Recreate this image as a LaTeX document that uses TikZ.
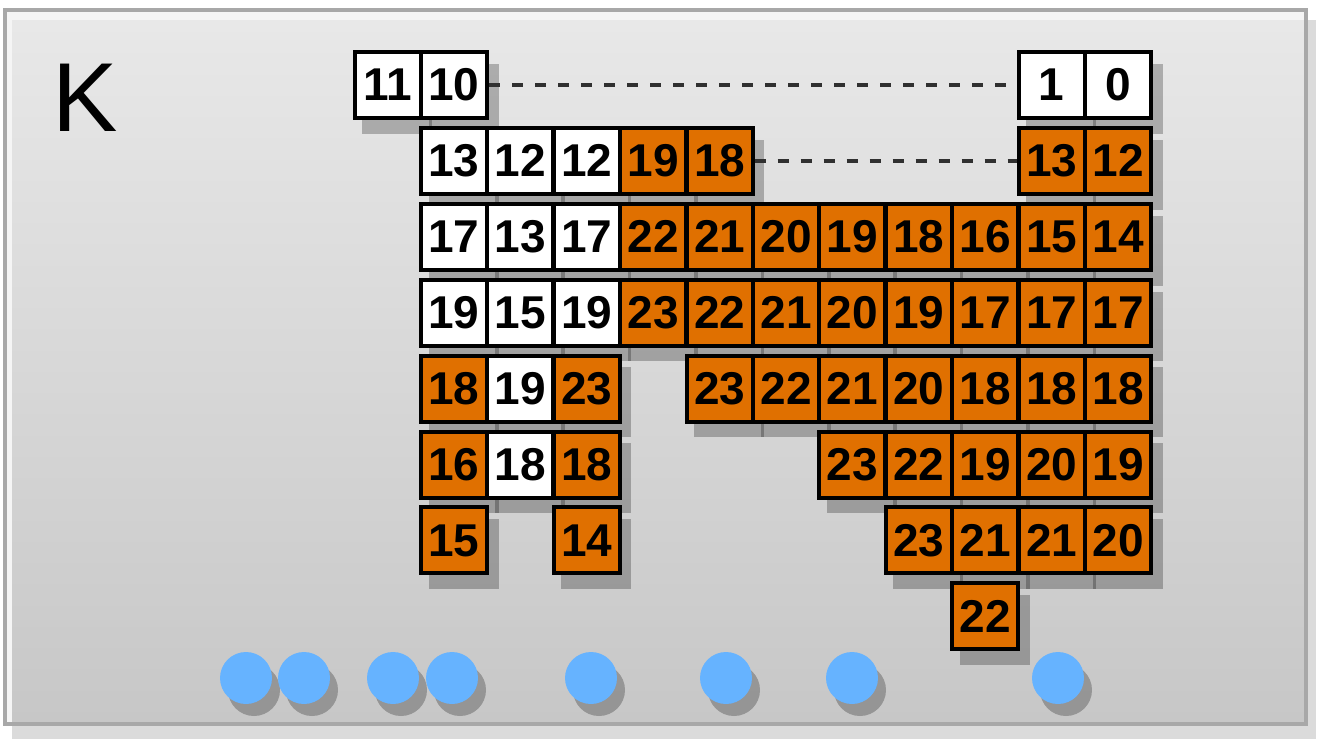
\documentclass[tikz,border=0pt]{standalone}
\usepackage{fontspec}
\setmainfont{Liberation Sans}
\usetikzlibrary{shadows}
\definecolor{orng}{HTML}{E07000}
\definecolor{blu}{HTML}{66B3FF}
\definecolor{frameln}{HTML}{A8A8A8}
\definecolor{dashc}{HTML}{303030}
\newcommand\cellat[5]{\node[#5] (#1) at ({454+66.4*(#3)},{85+75.9*(#2)}) {#4};}
\begin{document}
\begin{tikzpicture}[x=1pt,y=-1pt,
  cellbase/.style={rectangle, draw=black, line width=4pt, minimum width=66pt, minimum height=66pt, inner sep=0pt,
    font=\fontsize{46}{46}\selectfont\bfseries,
    drop shadow={shadow scale=1.06, shadow xshift=9pt, shadow yshift=-13pt, fill=black, opacity=0.25}},
  wcell/.style={cellbase, fill=white},
  ocell/.style={cellbase, fill=orng},
  dot/.style={circle, fill=blu, minimum size=52pt, inner sep=0pt,
    drop shadow={shadow xshift=8pt, shadow yshift=-12pt, fill=black, opacity=0.25}},
  link/.style={dashc, line width=3.5pt, dash pattern=on 11pt off 12pt}]
\useasboundingbox (0,0) rectangle (1324,744);
\fill[white] (0,0) rectangle (1324,744);
\fill[black!14] (12,20) rectangle (1316,739);
\fill[black!4] (5,10) rectangle (1306,724);
\shade[top color=black!9, bottom color=black!22] (12,20) rectangle (1306,724);
\draw[frameln, line width=3.5pt] (5,10) rectangle (1306,724);

\node[font=\fontsize{98}{98}\selectfont, anchor=base west, inner sep=0pt] (k) at (52,131) {K};

% row 0
\cellat{r0cm}{0}{-1}{11}{wcell}
\cellat{r0c0}{0}{0}{10}{wcell}
\cellat{r0c9}{0}{9}{1}{wcell}
\cellat{r0c10}{0}{10}{0}{wcell}
% row 1
\cellat{r1c0}{1}{0}{13}{wcell}
\cellat{r1c1}{1}{1}{12}{wcell}
\cellat{r1c2}{1}{2}{12}{wcell}
\cellat{r1c3}{1}{3}{19}{ocell}
\cellat{r1c4}{1}{4}{18}{ocell}
\cellat{r1c9}{1}{9}{13}{ocell}
\cellat{r1c10}{1}{10}{12}{ocell}
% row 2
\cellat{r2c0}{2}{0}{17}{wcell}
\cellat{r2c1}{2}{1}{13}{wcell}
\cellat{r2c2}{2}{2}{17}{wcell}
\cellat{r2c3}{2}{3}{22}{ocell}
\cellat{r2c4}{2}{4}{21}{ocell}
\cellat{r2c5}{2}{5}{20}{ocell}
\cellat{r2c6}{2}{6}{19}{ocell}
\cellat{r2c7}{2}{7}{18}{ocell}
\cellat{r2c8}{2}{8}{16}{ocell}
\cellat{r2c9}{2}{9}{15}{ocell}
\cellat{r2c10}{2}{10}{14}{ocell}
% row 3
\cellat{r3c0}{3}{0}{19}{wcell}
\cellat{r3c1}{3}{1}{15}{wcell}
\cellat{r3c2}{3}{2}{19}{wcell}
\cellat{r3c3}{3}{3}{23}{ocell}
\cellat{r3c4}{3}{4}{22}{ocell}
\cellat{r3c5}{3}{5}{21}{ocell}
\cellat{r3c6}{3}{6}{20}{ocell}
\cellat{r3c7}{3}{7}{19}{ocell}
\cellat{r3c8}{3}{8}{17}{ocell}
\cellat{r3c9}{3}{9}{17}{ocell}
\cellat{r3c10}{3}{10}{17}{ocell}
% row 4
\cellat{r4c0}{4}{0}{18}{ocell}
\cellat{r4c1}{4}{1}{19}{wcell}
\cellat{r4c2}{4}{2}{23}{ocell}
\cellat{r4c4}{4}{4}{23}{ocell}
\cellat{r4c5}{4}{5}{22}{ocell}
\cellat{r4c6}{4}{6}{21}{ocell}
\cellat{r4c7}{4}{7}{20}{ocell}
\cellat{r4c8}{4}{8}{18}{ocell}
\cellat{r4c9}{4}{9}{18}{ocell}
\cellat{r4c10}{4}{10}{18}{ocell}
% row 5
\cellat{r5c0}{5}{0}{16}{ocell}
\cellat{r5c1}{5}{1}{18}{wcell}
\cellat{r5c2}{5}{2}{18}{ocell}
\cellat{r5c6}{5}{6}{23}{ocell}
\cellat{r5c7}{5}{7}{22}{ocell}
\cellat{r5c8}{5}{8}{19}{ocell}
\cellat{r5c9}{5}{9}{20}{ocell}
\cellat{r5c10}{5}{10}{19}{ocell}
% row 6
\cellat{r6c0}{6}{0}{15}{ocell}
\cellat{r6c2}{6}{2}{14}{ocell}
\cellat{r6c7}{6}{7}{23}{ocell}
\cellat{r6c8}{6}{8}{21}{ocell}
\cellat{r6c9}{6}{9}{21}{ocell}
\cellat{r6c10}{6}{10}{20}{ocell}
% row 7
\cellat{r7c8}{7}{8}{22}{ocell}

\draw[link] (r0c0.east) -- (r0c9.west);
\draw[link] (r1c4.east) -- (r1c9.west);

\node[dot] (b1) at (246,678) {};
\node[dot] (b2) at (304,678) {};
\node[dot] (b3) at (393,678) {};
\node[dot] (b4) at (452,678) {};
\node[dot] (b5) at (591,678) {};
\node[dot] (b6) at (726,678) {};
\node[dot] (b7) at (852,678) {};
\node[dot] (b8) at (1058,678) {};
\end{tikzpicture}
\end{document}
